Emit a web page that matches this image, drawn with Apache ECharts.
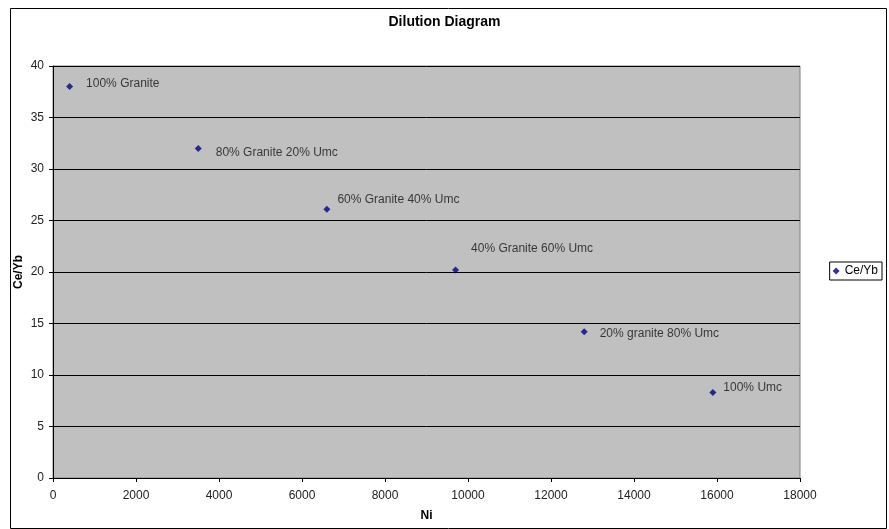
<!DOCTYPE html>
<html><head><meta charset="utf-8">
<script src="https://cdn.jsdelivr.net/npm/echarts@6/dist/echarts.min.js"></script>
<style>html,body{margin:0;padding:0;background:#fff}#c{width:889px;height:529px}</style>
</head><body><div id="c"></div>
<script>
const niValues = [400, 3500, 6600, 9700, 12800, 15900];
const ceYbValues = [38, 32, 26.1, 20.2, 14.2, 8.3];
const pointLabels = ['100% Granite', '80% Granite 20% Umc', '60% Granite 40% Umc', '40% Granite 60% Umc', '20% granite 80% Umc', '100% Umc'];
const labelOffsets = [[8, -3], [9, 4], [2, -9], [7, -21], [7, 2], [2, -5]];

const chart = echarts.init(document.getElementById('c'));
const font = 'Liberation Sans, Arial, sans-serif';
chart.setOption({
  animation: false,
  backgroundColor: '#fff',
  textStyle: {fontFamily: font},
  title: {text: 'Dilution Diagram', left: 'center', top: 10,
    textStyle: {fontSize: 14, fontWeight: 'bold', color: '#000', fontFamily: font}},
  graphic: [{type: 'rect', shape: {x: 10.5, y: 8.5, width: 876, height: 520},
    style: {fill: null, stroke: '#000', lineWidth: 1}, silent: true, z: 100}],
  legend: {right: 7, top: 262, orient: 'vertical', data: ['Ce/Yb'],
    borderColor: '#000', borderWidth: 1, padding: [3, 4, 3, 3],
    itemWidth: 7, itemHeight: 7, itemGap: 2,
    textStyle: {fontSize: 12, color: '#000', fontFamily: font}},
  grid: {left: 53, top: 66, width: 747, height: 412, show: true,
    backgroundColor: '#C0C0C0', borderColor: '#808080', borderWidth: 1},
  xAxis: {type: 'value', min: 0, max: 18000, interval: 2000, name: 'Ni',
    nameLocation: 'middle', nameGap: 32, nameMoveOverlap: false,
    nameTextStyle: {fontSize: 12, fontWeight: 'bold', color: '#000'},
    axisLine: {show: true, lineStyle: {color: '#000'}},
    axisTick: {show: true, length: 4, lineStyle: {color: '#000'}},
    axisLabel: {fontSize: 12, color: '#222', margin: 12, formatter: v => String(v)},
    splitLine: {show: false}},
  yAxis: {type: 'value', min: 0, max: 40, interval: 5, name: 'Ce/Yb',
    nameLocation: 'middle', nameGap: 28, nameMoveOverlap: false,
    nameTextStyle: {fontSize: 12, fontWeight: 'bold', color: '#000'},
    axisLine: {show: true, lineStyle: {color: '#000'}},
    axisTick: {show: true, length: 4, lineStyle: {color: '#000'}},
    axisLabel: {fontSize: 12, color: '#222', margin: 9},
    splitLine: {show: true, lineStyle: {color: '#000', width: 1}}},
  series: [{
    name: 'Ce/Yb', type: 'scatter', symbol: 'diamond', symbolSize: 7,
    itemStyle: {color: '#000080'},
    data: niValues.map((x, i) => ({
      value: [x, ceYbValues[i]],
      label: {show: true, position: 'right', formatter: pointLabels[i], offset: labelOffsets[i],
        fontSize: 12, color: '#111', fontFamily: font}
    }))
  }]
});
</script></body></html>
